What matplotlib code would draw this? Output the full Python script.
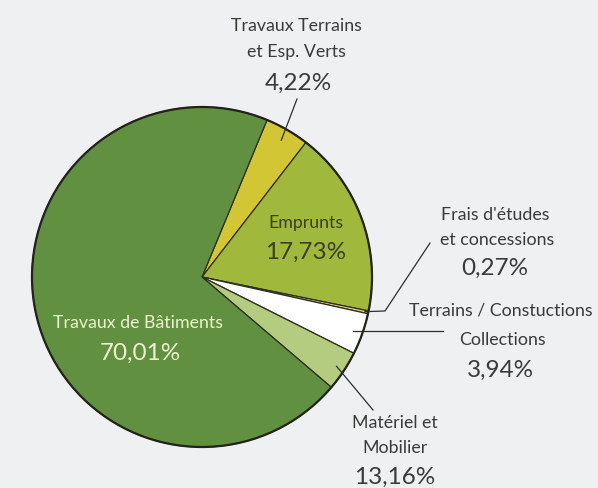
import numpy as np
import matplotlib.pyplot as plt

# slices, clockwise from the top (values as drawn in the picture)
names = ['Travaux Terrains\net Esp. Verts', 'Emprunts', "Frais d'études\net concessions",
         'Terrains / Constuctions\nCollections', 'Matériel et\nMobilier', 'Travaux de Bâtiments']
values = [4.22, 17.73, 0.27, 3.94, 3.83, 70.01]
pct_labels = ['4,22%', '17,73%', '0,27%', '3,94%', '13,16%', '70,01%']
colors = ['#d2c635', '#a0b83c', '#e0d48e', '#ffffff', '#b4cc80', '#619040']

plt.rcParams['font.family'] = ['Lato', 'DejaVu Sans']

W, H = 598, 488
fig = plt.figure(figsize=(W / 100, H / 100), dpi=100, facecolor='#eef0f2')
ax = fig.add_axes([0, 0, 1, 1])
ax.set_facecolor('#eef0f2')

cx, cy, R = 202, 211, 170
wedges, _ = ax.pie(values, colors=colors, startangle=67.5, counterclock=False,
                   center=(cx, cy), radius=R,
                   wedgeprops=dict(edgecolor='#2e2e22', linewidth=0.9))
ax.add_patch(plt.Circle((cx, cy), R, fill=False, edgecolor='#23231a', linewidth=1.6))

ax.set_xlim(0, W)
ax.set_ylim(0, H)
ax.set_aspect('equal')
ax.axis('off')


def anchor(i, frac):
    w = wedges[i]
    a = np.radians((w.theta1 + w.theta2) / 2)
    return cx + R * frac * np.cos(a), cy + R * frac * np.sin(a)


dark = '#3a3a38'
lbl = 12.8
big = 17.5

# Travaux Terrains
ax.text(296, 462, 'Travaux Terrains', ha='center', va='center', fontsize=lbl, color=dark)
ax.text(296, 436, 'et Esp. Verts', ha='center', va='center', fontsize=lbl, color=dark)
ax.text(298, 405, pct_labels[0], ha='center', va='center', fontsize=big, color=dark)
x0, y0 = anchor(0, 0.93)
ax.plot([x0, 297], [y0, 389], color='#2e2e2e', lw=0.9)

# Emprunts
ax.text(306, 265, 'Emprunts', ha='center', va='center', fontsize=lbl, color='#3b4020')
ax.text(306, 236, pct_labels[1], ha='center', va='center', fontsize=big, color='#3b4020')

# Frais d'etudes
ax.text(495, 273, "Frais d'études", ha='center', va='center', fontsize=lbl, color=dark)
ax.text(497, 248, 'et concessions', ha='center', va='center', fontsize=lbl, color=dark)
ax.text(495, 220, pct_labels[2], ha='center', va='center', fontsize=big, color=dark)
x0, y0 = anchor(2, 0.98)
ax.plot([x0, 385, 430], [y0, 177, 245], color='#2e2e2e', lw=0.9)

# Terrains / Constructions
ax.text(501, 177, 'Terrains / Constuctions', ha='center', va='center', fontsize=lbl, color=dark)
ax.text(502, 148, 'Collections', ha='center', va='center', fontsize=lbl, color=dark)
ax.text(500, 118, pct_labels[3], ha='center', va='center', fontsize=big, color=dark)
x0, y0 = anchor(3, 0.94)
ax.plot([x0, 443], [y0, y0], color='#2e2e2e', lw=0.9)

# Materiel
ax.text(395, 65, 'Matériel et', ha='center', va='center', fontsize=lbl, color=dark)
ax.text(395, 40, 'Mobilier', ha='center', va='center', fontsize=lbl, color=dark)
ax.text(395, 11, pct_labels[4], ha='center', va='center', fontsize=big, color=dark)
x0, y0 = anchor(4, 0.95)
ax.plot([x0, 373], [y0, 78], color='#2e2e2e', lw=0.9)

# Travaux de Batiments
ax.text(138, 165, 'Travaux de Bâtiments', ha='center', va='center', fontsize=lbl, color='#eef2cf')
ax.text(140, 135, pct_labels[5], ha='center', va='center', fontsize=big, color='#eef2cf')

plt.savefig('out.png', dpi=100, facecolor=fig.get_facecolor())
